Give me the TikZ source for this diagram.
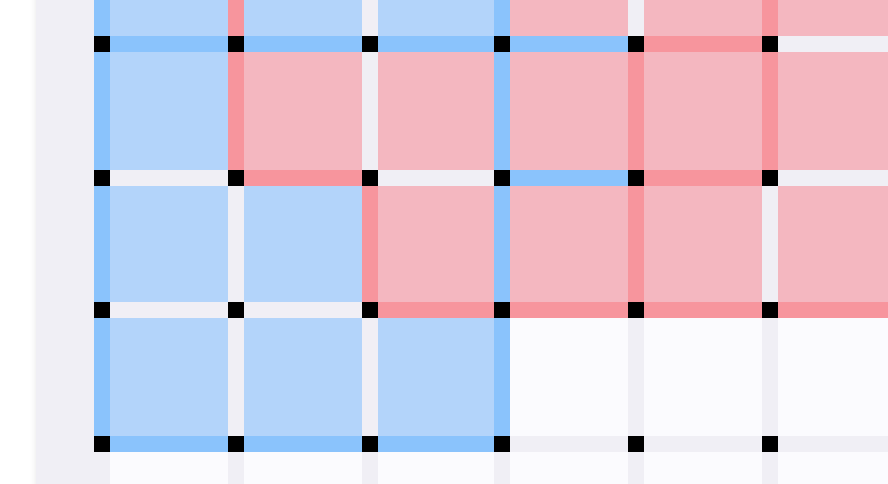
\documentclass[tikz,border=0pt]{standalone}
\usepackage{tikz}
\definecolor{bgwhite}{RGB}{255,255,255}
\definecolor{panel}{RGB}{240,239,245}
\definecolor{cellB}{RGB}{179,212,250}
\definecolor{lineB}{RGB}{138,195,252}
\definecolor{cellP}{RGB}{244,183,192}
\definecolor{lineP}{RGB}{247,149,157}
\definecolor{cellW}{RGB}{251,251,254}
\tikzset{
  cellb/.style={fill=cellB},
  cellp/.style={fill=cellP},
  cellw/.style={fill=cellW},
  segb/.style={fill=lineB},
  segp/.style={fill=lineP},
  dotsq/.style={fill=black},
}
\begin{document}
\begin{tikzpicture}[x=1pt,y=-1pt]
\useasboundingbox (0,0) rectangle (888,484);
\fill[bgwhite] (0,0) rectangle (888,484);
% shadow
\foreach \i/\o in {0/0.03,1/0.06,2/0.10,3/0.16,4/0.24,5/0.34}{
  \fill[black!12,opacity=\o] (30+\i,0) rectangle (31+\i,484);
}
\fill[panel] (36,0) rectangle (888,484);
% column x ranges and row y ranges
\def\cx{{110,244,378,510,644,778}}
\def\cw{{118,118,116,118,118,120}}
\def\ry{{-10,52,186,318,452}}
\def\rh{{46,118,116,118,42}}
% cells: row, col, style
\foreach \r/\c/\s in {
 0/0/cellb,0/1/cellb,0/2/cellb,0/3/cellp,0/4/cellp,0/5/cellp,
 1/0/cellb,1/1/cellp,1/2/cellp,1/3/cellp,1/4/cellp,1/5/cellp,
 2/0/cellb,2/1/cellb,2/2/cellp,2/3/cellp,2/4/cellp,2/5/cellp,
 3/0/cellb,3/1/cellb,3/2/cellb,3/3/cellw,3/4/cellw,3/5/cellw,
 4/0/cellw,4/1/cellw,4/2/cellw,4/3/cellw,4/4/cellw,4/5/cellw}{
  \pgfmathsetmacro{\xa}{\cx[\c]}
  \pgfmathsetmacro{\wa}{\cw[\c]}
  \pgfmathsetmacro{\ya}{\ry[\r]}
  \pgfmathsetmacro{\ha}{\rh[\r]}
  \path[\s] (\xa,\ya) rectangle ++(\wa,\ha);
}
% vertical line x positions
\def\vx{{94,228,362,494,628,762}}
\def\hy{{36,170,302,436}}
% vertical segments: line index, row, style
\foreach \v/\r/\s in {
 0/0/segb,0/1/segb,0/2/segb,0/3/segb,
 1/0/segp,1/1/segp,
 2/2/segp,
 3/0/segb,3/1/segb,3/2/segb,3/3/segb,
 4/1/segp,4/2/segp,
 5/0/segp,5/1/segp}{
  \pgfmathsetmacro{\xa}{\vx[\v]}
  \pgfmathsetmacro{\ya}{\ry[\r]}
  \pgfmathsetmacro{\ha}{\rh[\r]}
  \path[\s] (\xa,\ya) rectangle ++(16,\ha);
}
% horizontal segments: line index, col, style
\foreach \h/\c/\s in {
 0/0/segb,0/1/segb,0/2/segb,0/3/segb,0/4/segp,
 1/1/segp,1/3/segb,1/4/segp,
 2/2/segp,2/3/segp,2/4/segp,2/5/segp,
 3/0/segb,3/1/segb,3/2/segb}{
  \pgfmathsetmacro{\xa}{\cx[\c]}
  \pgfmathsetmacro{\wa}{\cw[\c]}
  \pgfmathsetmacro{\ya}{\hy[\h]}
  \path[\s] (\xa,\ya) rectangle ++(\wa,16);
}
% intersection squares
\foreach \v in {0,...,5}{
  \foreach \h in {0,...,3}{
    \pgfmathsetmacro{\xa}{\vx[\v]}
    \pgfmathsetmacro{\ya}{\hy[\h]}
    \path[dotsq] (\xa,\ya) rectangle ++(16,16);
  }
}
\end{tikzpicture}
\end{document}
